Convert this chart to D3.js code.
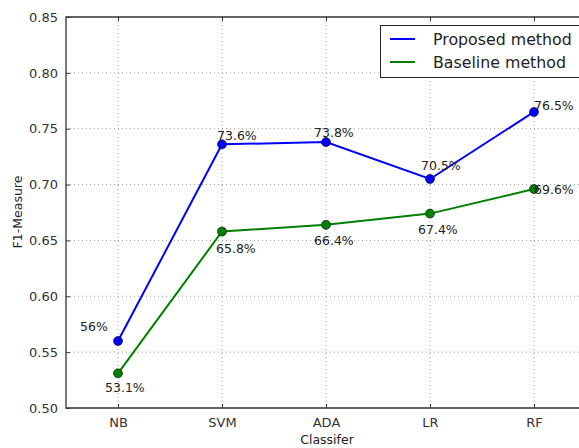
<!DOCTYPE html>
<html><head><meta charset="utf-8">
<script src="https://d3js.org/d3.v7.min.js"></script>
<style>
body{margin:0;background:#fff;}
svg{display:block;font-family:"DejaVu Sans",sans-serif;}
</style></head>
<body><div id="chart"></div>
<script>
const categories = ["NB","SVM","ADA","LR","RF"];
const proposed = [0.560,0.736,0.738,0.705,0.765];
const baseline = [0.531,0.658,0.664,0.674,0.696];
const proposedLabels = ["56%","73.6%","73.8%","70.5%","76.5%"];
const baselineLabels = ["53.1%","65.8%","66.4%","67.4%","69.6%"];
const yTicks = [0.50,0.55,0.60,0.65,0.70,0.75,0.80,0.85];
const seriesNames = ["Proposed method","Baseline method"];
const colors = ["#0000ff","#008000"];

// label offsets (styling): [dx, dy]
const propOff = [[-38,-10],[-5,-4],[-12,-5],[-9,-9],[0,-2]];
const baseOff = [[-13,19],[-6,22],[-12,20],[-12,20],[0,5]];

const W=579,H=448;
const L=66,T=17,B=408;
const svg=d3.select("#chart").append("svg").attr("width",W).attr("height",H);

const x=d3.scaleLinear().domain([-0.5,categories.length-0.5]).range([L,L+104*5]);
const y=d3.scaleLinear().domain([0.5,0.85]).range([B,T]);
const R=x.range()[1];

// grid
const grid=svg.append("g");
yTicks.forEach(t=>{grid.append("line").attr("x1",L).attr("x2",R).attr("y1",y(t)).attr("y2",y(t))
 .attr("stroke","#9a9a9a").attr("stroke-width",1).attr("stroke-dasharray","1,3");});
categories.forEach((c,i)=>{grid.append("line").attr("x1",x(i)).attr("x2",x(i)).attr("y1",T).attr("y2",B)
 .attr("stroke","#9a9a9a").attr("stroke-width",1).attr("stroke-dasharray","1,3");});

// axes
const yAx=d3.axisLeft(y).tickValues(yTicks).tickFormat(d3.format(".2f")).tickSizeInner(-4).tickSizeOuter(0).tickPadding(8);
const gy=svg.append("g").attr("transform",`translate(${L},0)`).call(yAx);
const xAx=d3.axisBottom(x).tickValues(d3.range(categories.length)).tickFormat(i=>categories[i]).tickSizeInner(-4).tickSizeOuter(0).tickPadding(10);
const gx=svg.append("g").attr("transform",`translate(0,${B})`).call(xAx);
const xTop=d3.axisTop(x).tickValues(d3.range(categories.length)).tickFormat("").tickSizeInner(-4).tickSizeOuter(0);
const gt=svg.append("g").attr("transform",`translate(0,${T})`).call(xTop);
[gy,gx,gt].forEach(g=>{
 g.selectAll(".domain").remove();
 g.selectAll("line").attr("stroke","#333");
 g.selectAll("text").attr("font-size",13).attr("fill","#333").attr("font-family","DejaVu Sans");
});

// frame
svg.append("path").attr("d",`M${R},${T}H${L}V${B}H${R}`).attr("fill","none").attr("stroke","#333").attr("stroke-width",1.3);

// lines
const line=d3.line().x((d,i)=>x(i)).y(d=>y(d));
[proposed,baseline].forEach((s,k)=>{
 svg.append("path").datum(s).attr("d",line).attr("fill","none").attr("stroke",colors[k]).attr("stroke-width",2);
 svg.selectAll(null).data(s).enter().append("circle").attr("cx",(d,i)=>x(i)).attr("cy",d=>y(d)).attr("r",4.5)
  .attr("fill",colors[k]).attr("stroke","#000").attr("stroke-width",0.6);
});

// labels
const lab=(s,labels,off)=>{
 svg.selectAll(null).data(s).enter().append("text")
  .attr("x",(d,i)=>x(i)+off[i][0]).attr("y",(d,i)=>y(d)+off[i][1])
  .attr("font-size",12.5).attr("fill","#222").text((d,i)=>labels[i]);
};
lab(proposed,proposedLabels,propOff);
lab(baseline,baselineLabels,baseOff);

// axis titles
svg.append("text").attr("x",327).attr("y",444).attr("text-anchor","middle").attr("font-size",12.5).attr("fill","#222").text("Classifer");
svg.append("text").attr("transform","translate(22,212) rotate(-90)").attr("text-anchor","middle").attr("font-size",12.5).attr("fill","#222").text("F1-Measure");

// legend
const lg=svg.append("g");
lg.append("rect").attr("x",380.5).attr("y",25.5).attr("width",230).attr("height",52).attr("fill","#fff").attr("stroke","#222").attr("stroke-width",1);
seriesNames.forEach((n,i)=>{
 const yy=39+i*23;
 lg.append("line").attr("x1",390).attr("x2",415).attr("y1",yy).attr("y2",yy).attr("stroke",colors[i]).attr("stroke-width",2);
 lg.append("text").attr("x",433).attr("y",yy+6).attr("font-size",15.8).attr("fill","#222").text(n);
});
</script></body></html>
